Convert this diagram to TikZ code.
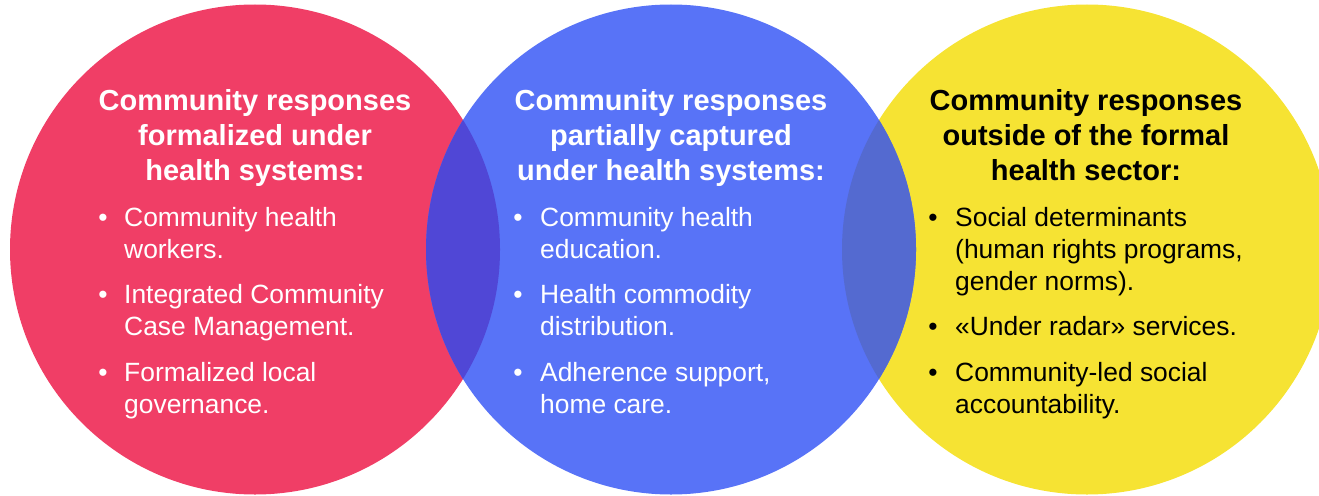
\documentclass[tikz,border=0pt]{standalone}
\usepackage{fontspec}
\setmainfont{Liberation Sans}
\usepackage{tikz}

\definecolor{redc}{RGB}{240,62,102}
\definecolor{bluec}{RGB}{88,115,247}
\definecolor{yellowc}{RGB}{246,227,51}
\definecolor{redblue}{RGB}{80,71,214}
\definecolor{blueyellow}{RGB}{84,106,208}

\tikzset{
    head/.style={font=\bfseries\fontsize{29}{35}\selectfont, align=center, anchor=base, inner sep=0pt},
    item/.style={font=\fontsize{26.4}{32}\selectfont, align=left, anchor=base west, inner sep=0pt},
    dot/.style={font=\fontsize{26.4}{32}\selectfont, anchor=base, inner sep=0pt},
}

\begin{document}
\begin{tikzpicture}[x=1pt,y=-1pt]
        \useasboundingbox (0,0) rectangle (1319,495);
        \clip (0,0) rectangle (1319,495);
        % circles
        \fill[redc] (255,249.5) circle (245pt);
        \fill[yellowc] (1087,249.5) circle (245pt);
        \fill[bluec] (671,249.5) circle (245pt);
        % overlaps
        \begin{scope}
            \clip (255,249.5) circle (245pt);
            \fill[redblue] (671,249.5) circle (245pt);
        \end{scope}
        \begin{scope}
            \clip (1087,249.5) circle (245pt);
            \fill[blueyellow] (671,249.5) circle (245pt);
        \end{scope}

        % left circle (base = last line)
        \node[head, text=white] (hred) at (255,180) {Community responses\\formalized under\\health systems:};
        \node[dot, text=white] (dr1) at (103,226) {\textbullet};
        \node[item, text=white] (ir1) at (124,258) {Community health\\workers.};
        \node[dot, text=white] (dr2) at (103,303) {\textbullet};
        \node[item, text=white] (ir2) at (124,335) {Integrated Community\\Case Management.};
        \node[dot, text=white] (dr3) at (103,381) {\textbullet};
        \node[item, text=white] (ir3) at (124,413) {Formalized local\\governance.};

        % middle circle
        \node[head, text=white] (hblue) at (671,180) {Community responses\\partially captured\\under health systems:};
        \node[dot, text=white] (db1) at (518,226) {\textbullet};
        \node[item, text=white] (ib1) at (540,258) {Community health\\education.};
        \node[dot, text=white] (db2) at (518,303) {\textbullet};
        \node[item, text=white] (ib2) at (540,335) {Health commodity\\distribution.};
        \node[dot, text=white] (db3) at (518,381) {\textbullet};
        \node[item, text=white] (ib3) at (540,413) {Adherence support,\\home care.};

        % right circle
        \node[head, text=black] (hyel) at (1086,180) {Community responses\\outside of the formal\\health sector:};
        \node[dot, text=black] (dy1) at (933,226) {\textbullet};
        \node[item, text=black] (iy1) at (955,290) {Social determinants\\(human rights programs,\\gender norms).};
        \node[dot, text=black] (dy2) at (933,335) {\textbullet};
        \node[item, text=black] (iy2) at (955,335) {«Under radar» services.};
        \node[dot, text=black] (dy3) at (933,381) {\textbullet};
        \node[item, text=black] (iy3) at (955,413) {Community-led social\\accountability.};
    \end{tikzpicture}
\end{document}
